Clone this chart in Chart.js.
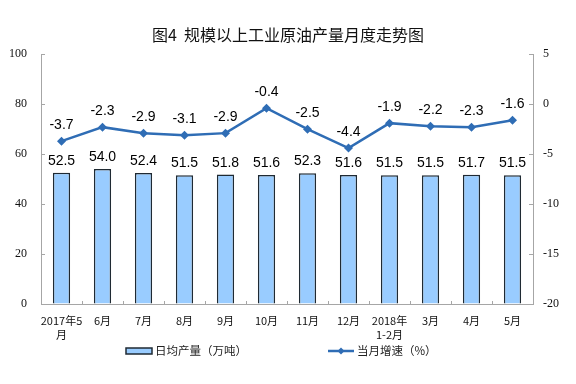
<!DOCTYPE html>
<html>
<head>
<meta charset="utf-8">
<script src="https://cdn.jsdelivr.net/npm/chart.js@4/dist/chart.umd.min.js"></script>
<style>
  html, body { margin: 0; padding: 0; background: #fff; }
  #wrap { width: 576px; height: 384px; }
</style>
</head>
<body>
<div id="wrap"><canvas id="oilChart"></canvas></div>
<script>
// data
var months = [['2017年5', '月'], '6月', '7月', '8月', '9月', '10月', '11月', '12月', ['2018年', '1-2月'], '3月', '4月', '5月'];
var dailyOutput = [52.5, 54.0, 52.4, 51.5, 51.8, 51.6, 52.3, 51.6, 51.5, 51.5, 51.7, 51.5];
var growthRate = [-3.7, -2.3, -2.9, -3.1, -2.9, -0.4, -2.5, -4.4, -1.9, -2.2, -2.3, -1.6];
var leftTicks = [0, 20, 40, 60, 80, 100];
var rightTicks = [-20, -15, -10, -5, 0, 5];

var barFill = '#99ccff';
var barEdge = '#1f2a33';
var lineBlue = '#2f6db5';
var axisGray = '#a6a6a6';
var cjk = '"Noto Sans CJK SC", sans-serif';

// value labels above bars and points
var valueLabels = {
    id: 'valueLabels',
    afterDatasetsDraw: function(chart) {
        var ctx = chart.ctx;
        ctx.save();
        ctx.font = '14px "Liberation Sans", Arial, sans-serif';
        ctx.fillStyle = '#000';
        ctx.textAlign = 'center';
        ctx.textBaseline = 'alphabetic';
        chart.data.datasets.forEach(function(ds, i) {
            var meta = chart.getDatasetMeta(i);
            meta.data.forEach(function(el, j) {
                var off = ds.type === 'line' ? 12 : 8;
                ctx.fillText(ds.data[j].toFixed(1), el.x, el.y - off);
            });
        });
        ctx.restore();
    }
};

// legend drawn by hand so the two entries sit where the original has them
var bottomLegend = {
    id: 'bottomLegend',
    afterDraw: function(chart) {
        var ctx = chart.ctx;
        var y = 351;
        var bars = chart.data.datasets[1];
        var line = chart.data.datasets[0];
        ctx.save();
        // bar entry
        ctx.fillStyle = barFill;
        ctx.fillRect(126, y - 3, 26, 6);
        ctx.strokeStyle = barEdge;
        ctx.lineWidth = 1.5;
        ctx.strokeRect(126, y - 3, 26, 6);
        // line entry
        ctx.strokeStyle = lineBlue;
        ctx.lineWidth = 2.5;
        ctx.beginPath(); ctx.moveTo(328, y); ctx.lineTo(354, y); ctx.stroke();
        ctx.fillStyle = lineBlue;
        ctx.beginPath();
        ctx.moveTo(341, y - 3.5); ctx.lineTo(344.5, y); ctx.lineTo(341, y + 3.5); ctx.lineTo(337.5, y);
        ctx.closePath(); ctx.fill();
        // texts
        ctx.fillStyle = '#222';
        ctx.font = '11.5px ' + cjk;
        ctx.textBaseline = 'middle';
        ctx.textAlign = 'left';
        ctx.fillText(bars.label, 155, y);
        ctx.fillText(line.label, 357, y);
        ctx.restore();
    }
};

document.addEventListener("DOMContentLoaded", function() {
    var ctx = document.getElementById('oilChart').getContext('2d');
    var chart = new Chart(ctx, {
        type: 'bar',
        data: {
            labels: months,
            datasets: [
                {
                    type: 'line',
                    label: '当月增速（%）',
                    data: growthRate,
                    yAxisID: 'yRight',
                    borderColor: lineBlue,
                    backgroundColor: lineBlue,
                    borderWidth: 2.5,
                    pointStyle: 'rectRot',
                    pointRadius: 4.5,
                    pointBorderWidth: 0,
                    tension: 0,
                    order: 0
                },
                {
                    label: '日均产量（万吨）',
                    data: dailyOutput,
                    yAxisID: 'yLeft',
                    backgroundColor: barFill,
                    borderColor: barEdge,
                    borderWidth: 1.5,
                    barPercentage: 0.42,
                    categoryPercentage: 1,
                    order: 1
                }
            ]
        },
        options: {
            responsive: true,
            maintainAspectRatio: false,
            animation: false,
            layout: { padding: { left: 0, right: 0, top: 0, bottom: 40 } },
            plugins: {
                title: {
                    display: true,
                    text: '图4  规模以上工业原油产量月度走势图',
                    color: '#111',
                    font: { family: cjk, size: 16, weight: 'normal' },
                    padding: { top: 25, bottom: 10 }
                },
                legend: { display: false },
                tooltip: { enabled: false }
            },
            scales: {
                x: {
                    grid: { display: true, offset: true, drawOnChartArea: false, color: axisGray, tickLength: -3 },
                    border: { color: axisGray },
                    ticks: {
                        color: '#111',
                        maxRotation: 0,
                        autoSkip: false,
                        padding: 12,
                        font: { family: cjk, size: 11, lineHeight: 1.35 }
                    },
                    afterFit: function(scale) { scale.height = 40; }
                },
                yLeft: {
                    position: 'left',
                    min: 0, max: 100,
                    afterBuildTicks: function(scale) { scale.ticks = leftTicks.map(function(v) { return { value: v }; }); },
                    grid: { display: true, drawOnChartArea: false, color: axisGray, tickLength: -4 },
                    border: { color: axisGray },
                    ticks: {
                        color: '#111',
                        padding: 18,
                        font: { family: '"Liberation Serif", serif', size: 12 }
                    },
                    afterFit: function(scale) { scale.width = 41; }
                },
                yRight: {
                    position: 'right',
                    min: -20, max: 5,
                    afterBuildTicks: function(scale) { scale.ticks = rightTicks.map(function(v) { return { value: v }; }); },
                    grid: { display: true, drawOnChartArea: false, color: axisGray, tickLength: -4 },
                    border: { color: axisGray },
                    ticks: {
                        color: '#111',
                        padding: 14,
                        font: { family: '"Liberation Serif", serif', size: 12 }
                    },
                    afterFit: function(scale) { scale.width = 43; }
                }
            }
        },
        plugins: [valueLabels, bottomLegend]
    });
});
</script>
</body>
</html>
